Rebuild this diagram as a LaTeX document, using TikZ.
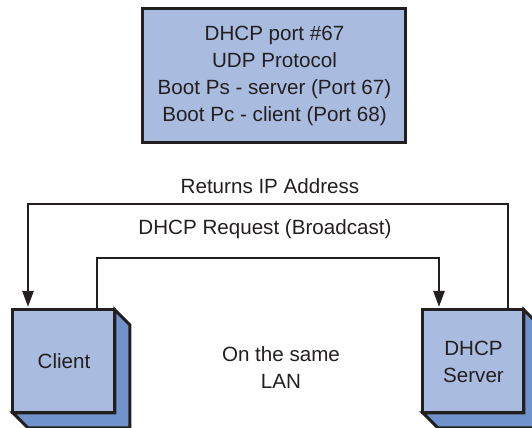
\documentclass[tikz,border=0pt]{standalone}
\usepackage{fontspec}
\setmainfont{Liberation Sans}
\usetikzlibrary{arrows.meta,calc,backgrounds}
\definecolor{boxblue}{HTML}{A9BCE0}
\definecolor{shadeblue}{HTML}{7193CC}
\definecolor{inkgray}{HTML}{231F20}

\begin{document}
\begin{tikzpicture}[x=0.5pt, y=-0.5pt, font=\fontsize{10.3}{13.5}\selectfont,
	face/.style={draw=inkgray, line width=1.5pt, fill=boxblue, align=center,
		inner sep=0, outer sep=0, text=inkgray},
	shade/.style={draw=inkgray, line width=1.5pt, fill=shadeblue, line join=miter},
	link/.style={draw=inkgray, line width=1.2pt},
	tip/.style={-{Triangle[length=8pt,width=5.5pt]}, shorten >=1.5pt},
	lbl/.style={text=inkgray, align=center, inner sep=0}]
\useasboundingbox (0,0) rectangle (532,428);
%%%  protocol box
\node[face, minimum width=131.5pt, minimum height=67pt] (info) at (274.5,76)
	{DHCP port \#67\\UDP Protocol\\Boot Ps - server (Port 67)\\Boot Pc - client (Port 68)};

%%%  hosts
\node[face, minimum width=51pt, minimum height=51.5pt] (client) at (64,361.5) {Client};
\node[face, minimum width=50.5pt, minimum height=51.5pt] (server) at (473.5,361.5) {DHCP\\Server};
\begin{scope}[on background layer]
\foreach \n in {client,server}{%
	\draw[shade] (\n.north east) -- ++(15,15) -- ($(\n.south east)+(15,15)$)
		-- ($(\n.south west)+(15,15)$) -- (\n.south west) -- (\n.south east) -- cycle;
}
\end{scope}

%%%  connectors
\coordinate (retR) at (508,204);
\coordinate (retL) at (28,204);
\coordinate (reqL) at (97,258);
\coordinate (reqR) at (439,258);
\draw[link, tip] (server.north -| retR) -- (retR) -- (retL) -- (retL |- client.north);
\draw[link, tip] (client.north -| reqL) -- (reqL) -- (reqR) -- (reqR |- server.north);

%%%  labels
\node[lbl] (retlabel) at (270,186) {Returns IP Address};
\node[lbl] (reqlabel) at (265,229) {DHCP Request (Broadcast)};
\node[lbl] (lan) at (281,368) {On the same\\LAN};
\end{tikzpicture}
\end{document}
